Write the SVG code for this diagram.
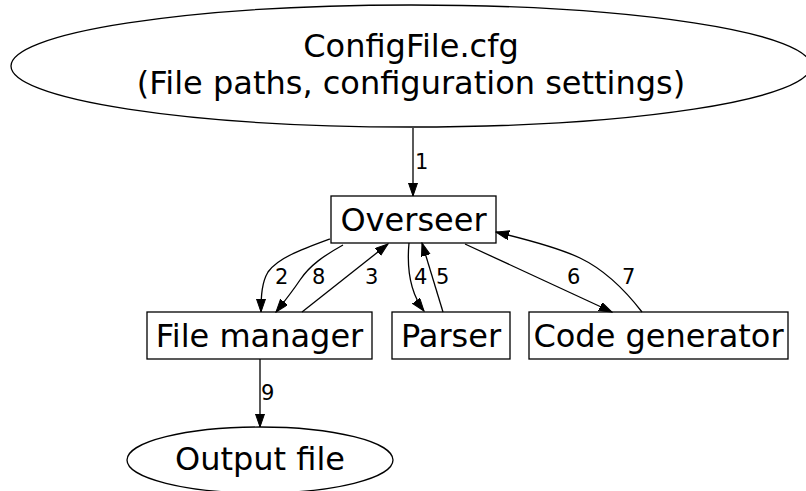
<svg xmlns="http://www.w3.org/2000/svg" width="806" height="491" viewBox="0 0 806 491">
  <style>
    .shape { fill: #ffffff; stroke: #000000; stroke-width: 1.3; }
    .edge { fill: none; stroke: #000000; stroke-width: 1.3; }
    .label { font-family: "DejaVu Sans", sans-serif; font-size: 32px; fill: #000000; text-anchor: middle; }
    .elabel { font-family: "DejaVu Sans", sans-serif; font-size: 21px; fill: #000000; }
  </style>
  <defs>
    <marker id="arrow" markerUnits="userSpaceOnUse" markerWidth="14" markerHeight="10" refX="13" refY="4.5" orient="auto">
      <path d="M0,0 L13,4.5 L0,9 z" fill="#000000" stroke="#000000" stroke-width="1"/>
    </marker>
  </defs>
  <rect width="806" height="491" fill="#ffffff"/>

  <!-- nodes -->
  <g id="configfile">
    <ellipse class="shape" cx="411" cy="66" rx="400" ry="61"/>
    <text class="label" x="411" y="57">ConfigFile.cfg</text>
    <text class="label" x="411" y="94">(File paths, configuration settings)</text>
  </g>
  <g id="overseer">
    <rect class="shape" x="331" y="196" width="165" height="47"/>
    <text class="label" x="413.5" y="231">Overseer</text>
  </g>
  <g id="filemanager">
    <rect class="shape" x="147" y="312" width="225" height="47"/>
    <text class="label" x="259.5" y="347">File manager</text>
  </g>
  <g id="parser">
    <rect class="shape" x="392" y="312" width="118" height="47"/>
    <text class="label" x="451" y="347">Parser</text>
  </g>
  <g id="codegenerator">
    <rect class="shape" x="529" y="312" width="259" height="47"/>
    <text class="label" x="658.5" y="347">Code generator</text>
  </g>
  <g id="outputfile">
    <ellipse class="shape" cx="260" cy="460" rx="133" ry="33"/>
    <text class="label" x="260" y="470">Output file</text>
  </g>

  <!-- connectors -->
  <g id="edges">
    <path class="edge" marker-end="url(#arrow)" d="M413,128 L413,196"/>
    <text class="elabel" x="415" y="169">1</text>

    <path class="edge" marker-end="url(#arrow)" d="M330,239 C300,250 278,258 268,272 C262,282 261,295 261,312"/>
    <text class="elabel" x="275" y="284">2</text>

    <path class="edge" marker-end="url(#arrow)" d="M343,245 C325,255 310,265 300,280 C292,292 284,302 276,312"/>
    <text class="elabel" x="312" y="284">8</text>

    <path class="edge" marker-end="url(#arrow)" d="M302,312 L388,244"/>
    <text class="elabel" x="365" y="284">3</text>

    <path class="edge" marker-end="url(#arrow)" d="M409,243 C407,265 408,290 424,311"/>
    <text class="elabel" x="414" y="284">4</text>

    <path class="edge" marker-end="url(#arrow)" d="M443,312 L422,243"/>
    <text class="elabel" x="436" y="284">5</text>

    <path class="edge" marker-end="url(#arrow)" d="M465,244 L612,312"/>
    <text class="elabel" x="567" y="284">6</text>

    <path class="edge" marker-end="url(#arrow)" d="M642,312 C625,290 605,270 580,258 C555,246 520,238 496,232"/>
    <text class="elabel" x="622" y="284">7</text>

    <path class="edge" marker-end="url(#arrow)" d="M260,359 L260,427"/>
    <text class="elabel" x="261" y="400">9</text>
  </g>
</svg>
